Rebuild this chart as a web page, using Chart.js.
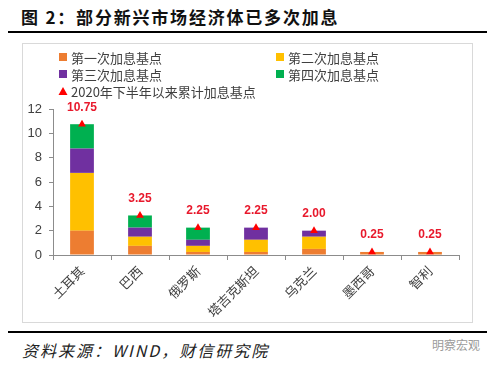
<!DOCTYPE html>
<html>
<head>
<meta charset="utf-8">
<title>部分新兴市场经济体已多次加息</title>
<script src="https://cdn.jsdelivr.net/npm/chart.js"></script>
<style>
  body { margin: 0; background: #fff; width: 500px; height: 365px; position: relative; overflow: hidden;
         font-family: "Noto Sans CJK SC", "Noto Sans", sans-serif; }
  #title { position: absolute; left: 21px; top: 4px; font-size: 17px; font-weight: bold; color: #111; letter-spacing: 1.8px; }
  .rule { position: absolute; left: 8px; width: 479px; height: 2px; background: #000; }
  #box { position: absolute; left: 22px; top: 43px; width: 449px; height: 278px; border: 1px solid #d9d9d9; }
  #source { position: absolute; left: 22px; top: 338px; font-size: 16px; font-style: italic; color: #222; letter-spacing: 2px; }
  #mark { position: absolute; left: 432px; top: 336px; font-size: 12px; color: #9a9a9a; }
</style>
</head>
<body>
<div id="title">图 2：部分新兴市场经济体已多次加息</div>
<div class="rule" style="top:31px"></div>
<div id="box"><canvas id="myChart" width="449" height="278"></canvas></div>
<div class="rule" style="top:331px"></div>
<div id="source">资料来源：WIND，财信研究院</div>
<div id="mark">明察宏观</div>
<script>
// 数据
const countries = ['土耳其', '巴西', '俄罗斯', '塔吉克斯坦', '乌克兰', '墨西哥', '智利'];
const hike1 = [2.0, 0.75, 0.25, 0.25, 0.5, 0.25, 0.25];
const hike2 = [4.75, 0.75, 0.5, 1.0, 1.0, 0, 0];
const hike3 = [2.0, 0.75, 0.5, 1.0, 0.5, 0, 0];
const hike4 = [2.0, 1.0, 1.0, 0, 0, 0, 0];
const totals = [10.75, 3.25, 2.25, 2.25, 2.00, 0.25, 0.25];
const yTicks = [0, 2, 4, 6, 8, 10, 12];

const axisGray = '#8c8c8c';
const textGray = '#404040';

// 自定义图例（两列）
const legendPlugin = {
  id: 'legend2col',
  afterDraw(chart) {
    const ctx = chart.ctx;
    const ds = chart.data.datasets;
    const items = [
      {ds: ds[0], x: 36, y: 13}, {ds: ds[1], x: 253, y: 13},
      {ds: ds[2], x: 36, y: 30}, {ds: ds[3], x: 253, y: 30},
      {ds: ds[4], x: 36, y: 47}
    ];
    ctx.save();
    ctx.font = '13px "Noto Sans CJK SC", sans-serif';
    ctx.textBaseline = 'middle';
    items.forEach(function(it) {
      ctx.fillStyle = it.ds.backgroundColor;
      if (it.ds.type === 'line') {
        ctx.beginPath();
        ctx.moveTo(it.x + 4, it.y - 4);
        ctx.lineTo(it.x + 8.5, it.y + 4);
        ctx.lineTo(it.x - 0.5, it.y + 4);
        ctx.closePath();
        ctx.fill();
      } else {
        ctx.fillRect(it.x, it.y - 4, 8, 8);
      }
      ctx.fillStyle = textGray;
      ctx.fillText(it.ds.label, it.x + 12, it.y + 1);
    });
    ctx.restore();
  }
};

// 累计值标签
const valuePlugin = {
  id: 'totalsLabels',
  afterDatasetsDraw(chart) {
    const ctx = chart.ctx;
    const meta = chart.getDatasetMeta(4);
    ctx.save();
    ctx.font = 'bold 12px "Liberation Sans", sans-serif';
    ctx.fillStyle = '#e8192c';
    ctx.textAlign = 'center';
    ctx.textBaseline = 'middle';
    meta.data.forEach(function(pt, i) {
      ctx.fillText(totals[i].toFixed(2), pt.x, pt.y - 17);
    });
    ctx.restore();
  }
};

new Chart(document.getElementById('myChart'), {
  data: {
    labels: countries,
    datasets: [
      {type: 'bar', label: '第一次加息基点', data: hike1, backgroundColor: '#ed7d31', stack: 's', order: 2},
      {type: 'bar', label: '第二次加息基点', data: hike2, backgroundColor: '#ffc000', stack: 's', order: 2},
      {type: 'bar', label: '第三次加息基点', data: hike3, backgroundColor: '#7030a0', stack: 's', order: 2},
      {type: 'bar', label: '第四次加息基点', data: hike4, backgroundColor: '#00b050', stack: 's', order: 2},
      {type: 'line', label: '2020年下半年以来累计加息基点', data: totals, backgroundColor: '#ff0000',
       borderColor: '#ff0000', showLine: false, pointStyle: 'triangle', pointRadius: 4.5,
       pointBorderWidth: 0, stack: 'tot', order: 0}
    ]
  },
  options: {
    responsive: false,
    animation: false,
    layout: { padding: { left: 0, right: 13, top: 65, bottom: 0 } },
    datasets: { bar: { categoryPercentage: 1, barPercentage: 0.41 } },
    plugins: { legend: { display: false }, tooltip: { enabled: false } },
    scales: {
      x: {
        stacked: true,
        grid: { display: true, drawOnChartArea: false, offset: true, tickLength: 5, color: axisGray },
        border: { color: axisGray, width: 1 },
        ticks: { autoSkip: false, minRotation: 45, maxRotation: 45, padding: 3, color: textGray,
                 font: { family: '"Noto Sans CJK SC", sans-serif', size: 13 } },
        afterFit(scale) { scale.height = 67; }
      },
      y: {
        stacked: true,
        min: 0, max: 12,
        afterBuildTicks(scale) { scale.ticks = yTicks.map(v => ({value: v})); },
        grid: { display: true, drawOnChartArea: false, tickLength: 4, color: axisGray },
        border: { color: axisGray, width: 1 },
        ticks: { padding: 7, color: textGray, font: { family: '"Liberation Sans", sans-serif', size: 13 } },
        afterFit(scale) { scale.width = 30; }
      }
    }
  },
  plugins: [legendPlugin, valuePlugin]
});
</script>
</body>
</html>
